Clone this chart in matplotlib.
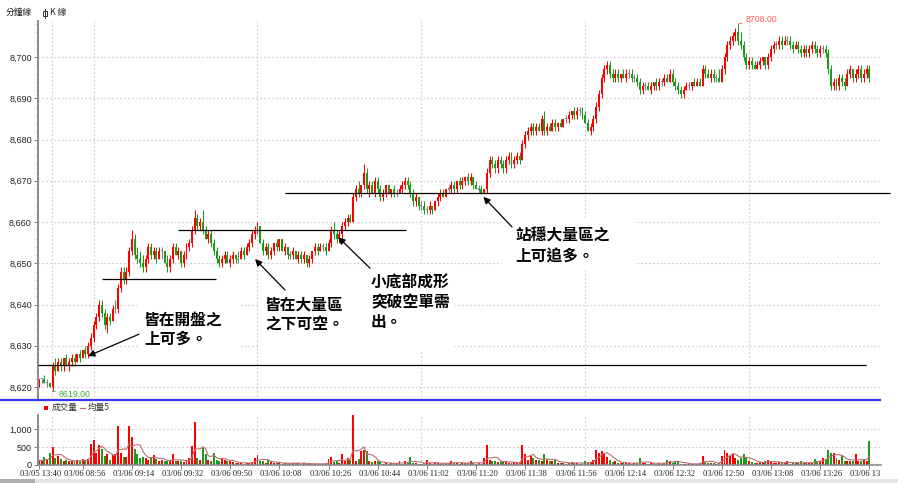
import numpy as np
import pandas as pd
import matplotlib
matplotlib.use("Agg")
import matplotlib.pyplot as plt
from matplotlib.patches import Rectangle
from matplotlib.ticker import MultipleLocator
from matplotlib.transforms import Bbox

# ---------------------------------------------------------------
# 1-minute bars: 03/05 13:40-13:44, then 03/06 08:45-13:44
# ---------------------------------------------------------------
opens = [
    8621, 8622, 8622, 8621, 8621, 8620, 8625, 8624, 8626, 8625,
    8627, 8625, 8626, 8627, 8626, 8628, 8627, 8629, 8628, 8630,
    8632, 8635, 8637, 8640, 8638, 8635, 8637, 8636, 8639, 8639,
    8644, 8648, 8646, 8648, 8653, 8656, 8652, 8651, 8650, 8649,
    8651, 8654, 8652, 8653, 8651, 8653, 8653, 8650, 8649, 8651,
    8654, 8652, 8653, 8650, 8652, 8654, 8655, 8658, 8661, 8659,
    8660, 8658, 8656, 8657, 8655, 8653, 8651, 8650, 8651, 8652,
    8650, 8651, 8652, 8651, 8651, 8653, 8652, 8654, 8655, 8657,
    8658, 8659, 8655, 8653, 8654, 8652, 8653, 8655, 8654, 8656,
    8653, 8654, 8652, 8652, 8653, 8651, 8652, 8651, 8652, 8650,
    8651, 8653, 8654, 8653, 8654, 8654, 8653, 8655, 8658, 8657,
    8656, 8657, 8659, 8660, 8661, 8660, 8666, 8668, 8667, 8669,
    8672, 8668, 8669, 8667, 8670, 8668, 8666, 8667, 8669, 8667,
    8668, 8667, 8667, 8668, 8669, 8670, 8669, 8667, 8665, 8666,
    8664, 8664, 8663, 8663, 8664, 8663, 8665, 8666, 8667, 8666,
    8668, 8668, 8669, 8668, 8670, 8669, 8670, 8671, 8670, 8671,
    8669, 8668, 8668, 8667, 8668, 8672, 8675, 8674, 8673, 8675,
    8674, 8673, 8675, 8676, 8674, 8675, 8676, 8675, 8679, 8681,
    8682, 8683, 8682, 8683, 8682, 8685, 8682, 8683, 8682, 8684,
    8683, 8684, 8683, 8685, 8685, 8686, 8687, 8686, 8687, 8687,
    8686, 8684, 8682, 8683, 8685, 8688, 8691, 8695, 8697, 8698,
    8696, 8695, 8696, 8695, 8696, 8695, 8696, 8696, 8695, 8695,
    8694, 8692, 8693, 8693, 8692, 8693, 8694, 8693, 8694, 8694,
    8695, 8694, 8696, 8694, 8693, 8692, 8691, 8692, 8693, 8693,
    8694, 8693, 8694, 8693, 8697, 8696, 8695, 8696, 8695, 8695,
    8694, 8697, 8700, 8703, 8704, 8705, 8706, 8704, 8703, 8700,
    8698, 8699, 8698, 8697, 8698, 8699, 8700, 8698, 8700, 8702,
    8703, 8703, 8704, 8703, 8704, 8704, 8703, 8702, 8703, 8702,
    8701, 8702, 8701, 8702, 8703, 8702, 8701, 8702, 8702, 8701,
    8697, 8693, 8694, 8693, 8695, 8694, 8693, 8696, 8697, 8695,
    8696, 8697, 8695, 8696, 8697,
]
highs = [
    8622, 8622, 8623, 8622, 8621, 8626, 8627, 8627, 8627, 8627,
    8628, 8627, 8628, 8628, 8628, 8629, 8629, 8630, 8631, 8633,
    8636, 8638, 8641, 8641, 8639, 8638, 8638, 8640, 8641, 8645,
    8649, 8649, 8649, 8654, 8658, 8657, 8654, 8653, 8652, 8652,
    8655, 8655, 8654, 8654, 8654, 8654, 8653, 8652, 8652, 8655,
    8655, 8654, 8653, 8653, 8655, 8656, 8659, 8663, 8662, 8661,
    8663, 8659, 8658, 8658, 8656, 8654, 8652, 8652, 8653, 8653,
    8652, 8653, 8652, 8653, 8654, 8654, 8655, 8656, 8658, 8659,
    8660, 8659, 8656, 8655, 8655, 8654, 8655, 8656, 8656, 8656,
    8655, 8654, 8653, 8654, 8653, 8653, 8653, 8653, 8652, 8652,
    8653, 8655, 8655, 8655, 8655, 8655, 8656, 8659, 8660, 8658,
    8658, 8660, 8661, 8662, 8662, 8667, 8669, 8670, 8669, 8674,
    8673, 8670, 8670, 8671, 8671, 8669, 8668, 8669, 8669, 8668,
    8669, 8668, 8669, 8670, 8671, 8671, 8670, 8668, 8667, 8666,
    8665, 8665, 8664, 8665, 8664, 8665, 8667, 8668, 8668, 8668,
    8669, 8670, 8670, 8670, 8671, 8671, 8671, 8672, 8672, 8671,
    8670, 8669, 8669, 8668, 8673, 8676, 8676, 8675, 8676, 8676,
    8675, 8676, 8677, 8677, 8676, 8677, 8677, 8680, 8682, 8683,
    8684, 8684, 8684, 8684, 8686, 8687, 8684, 8684, 8685, 8685,
    8684, 8685, 8685, 8686, 8687, 8687, 8688, 8688, 8688, 8688,
    8687, 8685, 8684, 8686, 8689, 8692, 8696, 8698, 8699, 8699,
    8697, 8697, 8697, 8696, 8697, 8697, 8697, 8697, 8696, 8696,
    8695, 8694, 8694, 8694, 8694, 8694, 8695, 8695, 8695, 8696,
    8696, 8697, 8697, 8695, 8694, 8693, 8693, 8694, 8694, 8694,
    8695, 8695, 8695, 8698, 8698, 8697, 8697, 8697, 8696, 8697,
    8698, 8701, 8704, 8705, 8706, 8707, 8708, 8706, 8704, 8701,
    8700, 8700, 8699, 8699, 8700, 8700, 8700, 8701, 8703, 8704,
    8704, 8705, 8705, 8705, 8705, 8705, 8704, 8704, 8704, 8703,
    8703, 8703, 8703, 8704, 8704, 8703, 8703, 8703, 8703, 8702,
    8698, 8695, 8695, 8696, 8696, 8695, 8697, 8698, 8697, 8697,
    8698, 8698, 8697, 8698, 8698,
]
lows = [
    8620, 8621, 8621, 8620, 8620, 8619, 8623, 8624, 8624, 8624,
    8625, 8624, 8625, 8625, 8626, 8626, 8627, 8627, 8627, 8629,
    8631, 8634, 8636, 8637, 8634, 8633, 8635, 8636, 8638, 8638,
    8643, 8645, 8645, 8647, 8652, 8651, 8650, 8649, 8648, 8648,
    8650, 8651, 8651, 8650, 8651, 8651, 8650, 8648, 8648, 8650,
    8652, 8651, 8649, 8649, 8651, 8653, 8654, 8657, 8658, 8658,
    8657, 8656, 8655, 8654, 8652, 8650, 8649, 8649, 8650, 8650,
    8649, 8650, 8650, 8650, 8651, 8651, 8652, 8653, 8654, 8656,
    8657, 8655, 8652, 8652, 8651, 8651, 8652, 8653, 8653, 8653,
    8652, 8651, 8651, 8651, 8651, 8650, 8650, 8650, 8649, 8649,
    8650, 8652, 8652, 8653, 8653, 8652, 8653, 8654, 8656, 8655,
    8655, 8656, 8658, 8659, 8660, 8660, 8665, 8666, 8666, 8668,
    8667, 8666, 8667, 8666, 8667, 8665, 8665, 8666, 8667, 8666,
    8666, 8666, 8667, 8667, 8668, 8668, 8666, 8664, 8664, 8663,
    8663, 8662, 8662, 8662, 8662, 8663, 8664, 8665, 8666, 8666,
    8667, 8667, 8667, 8667, 8668, 8668, 8669, 8669, 8669, 8668,
    8668, 8667, 8667, 8667, 8667, 8671, 8673, 8672, 8672, 8673,
    8672, 8672, 8674, 8673, 8673, 8674, 8674, 8675, 8678, 8680,
    8681, 8681, 8681, 8682, 8681, 8681, 8681, 8682, 8682, 8682,
    8682, 8683, 8683, 8684, 8684, 8685, 8685, 8685, 8686, 8685,
    8684, 8682, 8681, 8682, 8684, 8687, 8690, 8694, 8696, 8695,
    8694, 8694, 8694, 8694, 8695, 8694, 8695, 8694, 8694, 8693,
    8691, 8691, 8692, 8692, 8691, 8692, 8692, 8692, 8693, 8693,
    8694, 8694, 8693, 8692, 8691, 8690, 8690, 8692, 8692, 8692,
    8693, 8693, 8693, 8693, 8695, 8695, 8694, 8694, 8694, 8694,
    8694, 8696, 8699, 8702, 8703, 8704, 8703, 8702, 8699, 8697,
    8697, 8697, 8697, 8697, 8697, 8698, 8697, 8697, 8699, 8701,
    8702, 8702, 8702, 8703, 8703, 8702, 8701, 8702, 8701, 8700,
    8700, 8700, 8700, 8701, 8701, 8700, 8700, 8701, 8700, 8696,
    8692, 8692, 8692, 8692, 8693, 8692, 8693, 8695, 8694, 8694,
    8695, 8694, 8694, 8695, 8694,
]
closes = [
    8622, 8622, 8621, 8621, 8620, 8625, 8624, 8626, 8625, 8627,
    8625, 8626, 8627, 8626, 8628, 8627, 8629, 8628, 8630, 8632,
    8635, 8637, 8640, 8638, 8635, 8637, 8636, 8639, 8639, 8644,
    8648, 8646, 8648, 8653, 8656, 8652, 8651, 8650, 8649, 8651,
    8654, 8652, 8653, 8651, 8653, 8653, 8650, 8649, 8651, 8654,
    8652, 8653, 8650, 8652, 8654, 8655, 8658, 8661, 8659, 8660,
    8658, 8656, 8657, 8655, 8653, 8651, 8650, 8651, 8652, 8650,
    8651, 8652, 8651, 8651, 8653, 8652, 8654, 8655, 8657, 8658,
    8659, 8655, 8653, 8654, 8652, 8653, 8655, 8654, 8656, 8653,
    8654, 8652, 8652, 8653, 8651, 8652, 8651, 8652, 8650, 8651,
    8653, 8654, 8653, 8654, 8654, 8653, 8655, 8658, 8657, 8656,
    8657, 8659, 8660, 8661, 8660, 8666, 8668, 8667, 8669, 8672,
    8668, 8669, 8667, 8670, 8668, 8666, 8667, 8669, 8667, 8668,
    8667, 8667, 8668, 8669, 8670, 8669, 8667, 8665, 8666, 8664,
    8664, 8663, 8663, 8664, 8663, 8665, 8666, 8667, 8666, 8668,
    8668, 8669, 8668, 8670, 8669, 8670, 8671, 8670, 8671, 8669,
    8668, 8668, 8667, 8668, 8672, 8675, 8674, 8673, 8675, 8674,
    8673, 8675, 8676, 8674, 8675, 8676, 8675, 8679, 8681, 8682,
    8683, 8682, 8683, 8682, 8685, 8682, 8683, 8682, 8684, 8683,
    8684, 8683, 8685, 8685, 8686, 8687, 8686, 8687, 8687, 8686,
    8684, 8682, 8683, 8685, 8688, 8691, 8695, 8697, 8698, 8696,
    8695, 8696, 8695, 8696, 8695, 8696, 8696, 8695, 8695, 8694,
    8692, 8693, 8693, 8692, 8693, 8694, 8693, 8694, 8694, 8695,
    8694, 8696, 8694, 8693, 8692, 8691, 8692, 8693, 8693, 8694,
    8693, 8694, 8693, 8697, 8696, 8695, 8696, 8695, 8695, 8694,
    8697, 8700, 8703, 8704, 8705, 8706, 8704, 8703, 8700, 8698,
    8699, 8698, 8697, 8698, 8699, 8700, 8698, 8700, 8702, 8703,
    8703, 8704, 8703, 8704, 8704, 8703, 8702, 8703, 8702, 8701,
    8702, 8701, 8702, 8703, 8702, 8701, 8702, 8702, 8701, 8697,
    8693, 8694, 8693, 8695, 8694, 8693, 8696, 8697, 8695, 8696,
    8697, 8695, 8696, 8697, 8695,
]
volumes = [
    130, 120, 220, 140, 350, 500, 200, 250, 180, 100,
    150, 100, 110, 100, 150, 100, 160, 150, 160, 600,
    700, 350, 550, 450, 250, 300, 150, 280, 300, 1100,
    350, 220, 230, 1080, 780, 450, 300, 200, 230, 200,
    150, 220, 280, 160, 120, 150, 120, 100, 100, 300,
    100, 100, 100, 90, 140, 200, 520, 1200, 200, 150,
    480, 300, 150, 100, 350, 150, 100, 200, 150, 120,
    100, 80, 60, 50, 70, 40, 60, 50, 80, 200,
    280, 120, 100, 70, 130, 80, 60, 50, 50, 40,
    60, 50, 40, 60, 50, 70, 30, 50, 40, 30,
    20, 40, 30, 40, 30, 40, 180, 220, 80, 100,
    60, 300, 100, 200, 150, 1400, 100, 180, 400, 430,
    400, 100, 80, 100, 100, 80, 40, 50, 30, 60,
    40, 50, 100, 40, 100, 60, 220, 60, 50, 40,
    40, 50, 130, 50, 40, 60, 50, 40, 50, 40,
    60, 120, 50, 60, 40, 50, 60, 50, 100, 60,
    40, 50, 40, 200, 550, 150, 100, 100, 90, 100,
    90, 100, 60, 50, 80, 60, 70, 570, 300, 150,
    250, 200, 150, 130, 100, 300, 150, 120, 100, 130,
    60, 50, 70, 40, 60, 80, 50, 60, 40, 50,
    100, 80, 90, 150, 420, 330, 400, 340, 230, 150,
    80, 100, 60, 50, 70, 50, 50, 40, 60, 50,
    200, 60, 50, 40, 50, 60, 40, 50, 40, 60,
    150, 100, 60, 120, 100, 30, 30, 40, 20, 30,
    30, 40, 50, 250, 80, 60, 70, 50, 40, 50,
    250, 420, 350, 250, 300, 200, 150, 200, 300, 200,
    120, 80, 60, 70, 80, 60, 100, 150, 100, 50,
    60, 80, 60, 50, 120, 40, 50, 60, 60, 100,
    50, 60, 60, 50, 180, 120, 100, 200, 150, 420,
    330, 350, 200, 150, 280, 120, 100, 100, 100, 320,
    100, 120, 140, 100, 680,
]

tick_bars = [0, 16, 34, 52, 70, 88, 106, 124, 142, 160,
             178, 196, 214, 232, 250, 268, 286, 304]
tick_labels = ["03/05 13:40", "03/06 08:56", "03/06 09:14", "03/06 09:32",
               "03/06 09:50", "03/06 10:08", "03/06 10:26", "03/06 10:44",
               "03/06 11:02", "03/06 11:20", "03/06 11:38", "03/06 11:56",
               "03/06 12:14", "03/06 12:32", "03/06 12:50", "03/06 13:08",
               "03/06 13:26", "03/06 13:44"]
hour_bars = [4.75, 20, 80, 140, 200, 260]          # day break + full hours
price_ticks = [8620, 8630, 8640, 8650, 8660, 8670, 8680, 8690, 8700]
volume_ticks = [0, 500, 1000]

# support / resistance lines drawn on the chart: price, first bar, last bar
level_prices = [8625.3, 8646.2, 8658.0, 8667.0]
level_from = [-0.4, 23.1, 50.9, 90.1]
level_to = [302.8, 64.8, 134.4, 311.6]

notes = [["皆在開盤之", "上可多。"],
         ["皆在大量區", "之下可空。"],
         ["小底部成形", "突破空單需", "出。"],
         ["站穩大量區之", "上可追多。"]]

# ---------------------------------------------------------------
RED, GREEN, GRAY = "#ff0000", "#1c9a1c", "#808080"
GRID = "#d6c6d6"
CJK = ["Noto Sans CJK TC", "DejaVu Sans"]

W, H = 898, 483
fig = plt.figure(figsize=(W / 100, H / 100), dpi=100)
fig.patch.set_facecolor("white")


def frame(left, top, right, bottom):
    return [left / W, 1 - bottom / H, (right - left) / W, (bottom - top) / H]


ax_p = fig.add_axes(frame(38, 21, 881, 400))
ax_v = fig.add_axes(frame(38, 415, 881, 465))

o = np.array(opens, float)
h = np.array(highs, float)
l = np.array(lows, float)
c = np.array(closes, float)
v = np.array(volumes, float)
idx = np.arange(len(c))

xmin, xmax = -0.37, 308.3
for ax in (ax_p, ax_v):
    ax.set_xlim(xmin, xmax)
    for s in ("top", "right"):
        ax.spines[s].set_visible(False)
    ax.spines["left"].set_color("#8c8c8c")
    ax.spines["left"].set_linewidth(1.4)
    for hb in hour_bars:
        ax.axvline(hb, color=GRID, lw=0.8, ls=(0, (1.5, 2.0)), zorder=0.5)

# ---- price panel ----
ax_p.set_ylim(8616.85, 8708.73)
ax_p.spines["bottom"].set_visible(False)
ax_p.set_xticks([])
ax_p.set_yticks(price_ticks)
ax_p.set_yticklabels([f"{t:,}" for t in price_ticks],
                     fontfamily="Liberation Sans", fontsize=6.5, color="#222222")
ax_p.yaxis.set_minor_locator(MultipleLocator(2))
ax_p.tick_params(axis="y", which="major", length=3, width=0.6, color="#666666", pad=1.5)
ax_p.tick_params(axis="y", which="minor", length=1.5, width=0.5, color="#666666")
for t in price_ticks:
    ax_p.axhline(t, color=GRID, lw=0.8, ls=(0, (1.5, 2.0)), zorder=0.5)

cols = np.where(c > o, RED, np.where(c < o, GREEN, GRAY))
body_lo = np.minimum(o, c)
body_h = np.abs(c - o)
flat = body_h == 0
body_lo = np.where(flat, o - 0.13, body_lo)
body_h = np.where(flat, 0.26, body_h)
ax_p.vlines(idx, l, h, colors=cols, lw=0.75, zorder=2)
ax_p.bar(idx, body_h, bottom=body_lo, width=0.72, color=cols, linewidth=0, zorder=2.1)

# extremes with leader lines
imax, imin = int(np.argmax(h)), int(np.argmin(l))
ax_p.annotate(f"{h[imax]:.2f}", xy=(imax, h[imax]), xytext=(imax + 2.6, h[imax] + 1.1),
              fontsize=6.3, fontfamily="Liberation Sans", color="#ff5a5a",
              ha="left", va="center", annotation_clip=False,
              arrowprops=dict(arrowstyle="-", color="#ff5a5a", lw=0.6,
                              shrinkA=0, shrinkB=0))
ax_p.annotate(f"{l[imin]:.2f}", xy=(imin, l[imin]), xytext=(imin + 2.0, l[imin] - 0.8),
              fontsize=6.3, fontfamily="Liberation Sans", color="#3aaa3a",
              ha="left", va="center", annotation_clip=False,
              arrowprops=dict(arrowstyle="-", color="#3aaa3a", lw=0.6,
                              shrinkA=0, shrinkB=0))

# support / resistance lines
for lp, a, b in zip(level_prices, level_from, level_to):
    ax_p.plot([a, b], [lp, lp], color="black", lw=0.9, zorder=3, clip_on=False,
              solid_capstyle="butt")

# white note panels
note_boxes = [(36.25, 73.6, 8628.5, 8641.1),
              (80.2, 121.2, 8629.0, 8644.0),
              (119.7, 152.3, 8629.0, 8649.8),
              (169.5, 218.2, 8648.8, 8660.7)]
for x0, x1, y0, y1 in note_boxes:
    ax_p.add_patch(Rectangle((x0, y0), x1 - x0, y1 - y0, facecolor="white",
                             edgecolor="none", zorder=1))

note_pos = [(38.45, 8636.36), (82.75, 8640.0), (121.57, 8645.33), (174.3, 8656.6)]
line_step = 4.73
for lines, (nx, ny) in zip(notes, note_pos):
    for k, txt in enumerate(lines):
        ax_p.text(nx, ny - k * line_step, txt, family=CJK, fontweight="bold",
                  fontsize=11.3, color="black", ha="left", va="center", zorder=5)

arrows = [((17.9, 8627.5), (36.6, 8632.8)),
          ((79.1, 8651.0), (90.1, 8643.5)),
          ((109.6, 8656.3), (121.2, 8648.8)),
          ((162.7, 8666.1), (173.2, 8658.8))]
for tip, tail in arrows:
    ax_p.annotate("", xy=tip, xytext=tail, annotation_clip=False, zorder=4,
                  arrowprops=dict(arrowstyle="-|>", color="black", lw=0.9,
                                  mutation_scale=10, shrinkA=0, shrinkB=0))

# ---- volume panel ----
ax_v.set_ylim(0, 1400)
ax_v.spines["bottom"].set_color("#8c8c8c")
ax_v.spines["bottom"].set_linewidth(1.2)
ax_v.set_yticks(volume_ticks)
ax_v.set_yticklabels([f"{t:,}" for t in volume_ticks],
                     fontfamily="Liberation Sans", fontsize=6.5, color="#222222")
ax_v.tick_params(axis="y", length=3, width=0.6, color="#666666", pad=1.5)
ax_v.set_xticks(tick_bars)
ax_v.set_xticklabels([])
ax_v.tick_params(axis="x", length=3, width=0.6, color="#666666")
for t in volume_ticks[1:]:
    ax_v.axhline(t, color=GRID, lw=0.8, ls=(0, (1.5, 2.0)), zorder=0.5)

vcols = np.where(c < o, GREEN, RED)
ax_v.bar(idx, v, width=0.72, color=vcols, linewidth=0, zorder=2)
ma5 = pd.Series(v).rolling(5, min_periods=1).mean()
ax_v.plot(idx, ma5, color="#b97070", lw=0.8, zorder=3)

clip = Bbox.from_extents(0, 0, 881, H)
for b, lab in zip(tick_bars, tick_labels):
    t = ax_v.text(b + 0.6, -0.18, lab, transform=ax_v.get_xaxis_transform(),
                  ha="center", va="center", fontsize=6.1,
                  fontfamily="Liberation Serif", color="#222222")
    t.set_clip_box(clip)
    t.set_clip_on(True)

# ---- frame decorations in pixel space ----
ax_o = fig.add_axes([0, 0, 1, 1])
ax_o.set_xlim(0, W)
ax_o.set_ylim(H, 0)
ax_o.axis("off")
ax_o.patch.set_alpha(0)
ax_o.set_zorder(10)

ax_o.text(6, 12, "分鐘線", family=CJK, fontsize=6.3, color="#222222",
          ha="left", va="center")
ax_o.add_patch(Rectangle((43.0, 11.0), 3.6, 4.5, facecolor="none",
                         edgecolor="#333333", lw=0.7))
ax_o.plot([44.8, 44.8], [8.5, 18.0], color="#333333", lw=0.7)
ax_o.text(49.5, 12, "K 線", family=CJK, fontsize=6.3, color="#222222",
          ha="left", va="center")

ax_o.plot([0, 881], [400, 400], color="#3535ee", lw=1.6, solid_capstyle="butt")

ax_o.add_patch(Rectangle((43.5, 405.5), 4, 4, facecolor="#ff0000", edgecolor="none"))
ax_o.text(52, 407.5, "成交量", family=CJK, fontsize=6.2, color="#333333",
          ha="left", va="center")
ax_o.plot([80, 85], [407.5, 407.5], color="#b97070", lw=0.9)
ax_o.text(88, 407.5, "均量5", family=CJK, fontsize=6.2, color="#333333",
          ha="left", va="center")

ax_o.add_patch(Rectangle((0, 478.5), W, 4.5, facecolor="#e6e6e6", edgecolor="none"))
ax_o.add_patch(Rectangle((0, 478.5), 35, 4.5, facecolor="#b0b0b0", edgecolor="none"))

fig.savefig("out.png", dpi=100, facecolor="white")
